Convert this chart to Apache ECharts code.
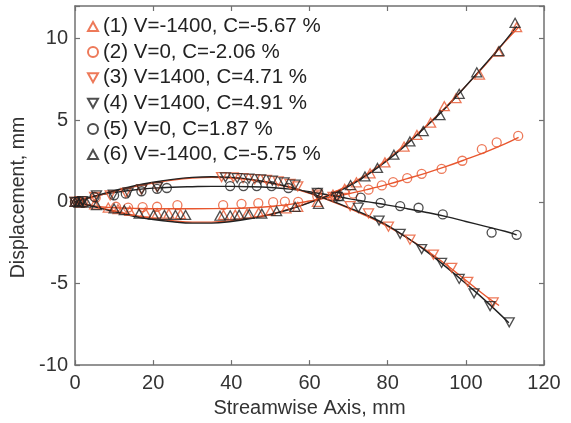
<!DOCTYPE html>
<html>
<head>
<meta charset="utf-8">
<script src="https://cdn.jsdelivr.net/npm/echarts@6/dist/echarts.min.js"></script>
<style>html,body{margin:0;padding:0;background:#fff;}#c{width:571px;height:423px;}</style>
</head>
<body>
<div id="c"></div>
<script>
// ---- data ----
const names = ['(1) V=-1400, C=-5.67 %','(2) V=0, C=-2.06 %','(3) V=1400, C=4.71 %','(4) V=1400, C=4.91 %','(5) V=0, C=1.87 %','(6) V=-1400, C=-5.75 %'];
const xTicks = [0, 20, 40, 60, 80, 100, 120];
const yTicks = [-10, -5, 0, 5, 10];

const s1x = [0, 1.5, 5, 8.5, 11, 14, 18, 21, 24, 27, 38, 41, 44, 47, 50, 54, 57, 62, 66, 69, 72, 75.5, 79.3, 84.2, 87.5, 91, 94.5, 97.5, 103.5, 108.3, 113];
const s1y = [0, -0.05, -0.15, -0.35, -0.45, -0.55, -0.65, -0.7, -0.72, -0.75, -0.8, -0.78, -0.72, -0.65, -0.55, -0.4, -0.3, 0.0, 0.45, 0.8, 1.2, 1.75, 2.42, 3.39, 4.1, 4.85, 5.86, 6.35, 7.8, 9.2, 10.7];

const s2x = [0, 1, 2, 5.3, 10.5, 13.6, 17.3, 21.0, 26.2, 37.9, 42.6, 46.9, 50.7, 53.7, 57.1, 62, 67, 71.2, 75.1, 78.5, 81.4, 85.0, 88.7, 93.8, 99.1, 104.1, 107.9, 113.4];
const s2y = [0, 0, -0.05, 0.25, -0.3, -0.35, -0.32, -0.3, -0.2, -0.2, -0.12, -0.08, -0.02, 0.02, 0.0, 0.35, 0.4, 0.5, 0.75, 1.01, 1.21, 1.45, 1.72, 2.02, 2.52, 3.23, 3.64, 4.04];

const s3x = [0, 1.5, 5, 9, 13, 17, 21, 37.5, 40.5, 43, 46, 49, 52, 55, 57, 62, 66, 70.4, 75.1, 80.2, 85.7, 91.7, 96.4, 100.5, 107];
const s3y = [0, 0.05, 0.3, 0.4, 0.55, 0.75, 0.9, 1.52, 1.5, 1.45, 1.4, 1.35, 1.25, 1.1, 0.95, 0.45, 0.3, -0.26, -0.71, -1.52, -2.32, -3.23, -4.04, -4.9, -6.16];

const s4x = [0, 2, 5.5, 9.8, 13.6, 17.1, 21.1, 38.5, 41.5, 44.5, 47.5, 50.5, 53.5, 56.3, 62, 67, 72.5, 77.8, 83.2, 88.7, 93.8, 98.3, 102.1, 106.2, 111.1];
const s4y = [0, 0.05, 0.4, 0.44, 0.56, 0.77, 0.91, 1.5, 1.45, 1.42, 1.38, 1.3, 1.2, 1.05, 0.55, 0.3, -0.36, -1.15, -1.96, -2.89, -3.74, -4.72, -5.6, -6.38, -7.38];

const s5x = [0, 1, 5, 10, 13, 17, 21, 23.5, 39.7, 43.1, 46.5, 50.3, 54.6, 62.3, 67.6, 73.1, 78.2, 83.2, 87.9, 94.1, 106.6, 113];
const s5y = [0, 0.05, 0.3, 0.4, 0.5, 0.65, 0.8, 0.85, 0.97, 0.97, 0.97, 0.97, 0.85, 0.55, 0.35, 0.26, -0.06, -0.26, -0.36, -0.77, -1.88, -2.02];

const s6x = [0, 1, 2, 3, 5.5, 10, 12.6, 16.4, 20.1, 22.9, 25.7, 28.3, 37.1, 39.7, 42.0, 44.6, 47.8, 51.6, 56.3, 62.3, 67.5, 70.5, 74.2, 77.4, 81.6, 85.7, 89.1, 93.4, 98.3, 102.8, 108.5, 112.6];
const s6y = [0, -0.05, 0, -0.05, -0.2, -0.4, -0.5, -0.72, -0.78, -0.8, -0.8, -0.8, -0.85, -0.82, -0.78, -0.74, -0.72, -0.57, -0.3, -0.12, 0.35, 1.03, 1.56, 2.08, 2.89, 3.70, 4.34, 5.31, 6.62, 7.94, 9.23, 10.97];

// fitted curves
const fit1x = [0, 5, 10, 15, 20, 25, 30, 35, 40, 45, 50, 55, 60, 65, 70, 75, 80, 85, 90, 95, 100, 105, 110, 113.5];
const fit1y = [0, -0.28, -0.55, -0.82, -1.02, -1.16, -1.24, -1.24, -1.15, -0.98, -0.75, -0.43, -0.03, 0.45, 1.02, 1.75, 2.62, 3.62, 4.7, 5.85, 7.1, 8.4, 9.8, 10.7];
const fit6x = [0, 5, 10, 15, 20, 25, 30, 35, 40, 45, 50, 55, 60, 65, 70, 75, 80, 85, 90, 95, 100, 105, 110, 113];
const fit6y = [0, -0.3, -0.6, -0.88, -1.08, -1.22, -1.3, -1.3, -1.2, -1.02, -0.78, -0.45, -0.05, 0.4, 0.95, 1.68, 2.55, 3.55, 4.65, 5.8, 7.1, 8.45, 9.85, 10.75];
const fit3x = [0, 5, 10, 15, 20, 25, 30, 35, 40, 45, 50, 55, 60, 65, 70, 75, 80, 85, 90, 95, 100, 105, 108.5];
const fit3y = [0, 0.33, 0.65, 0.93, 1.16, 1.34, 1.46, 1.5, 1.46, 1.35, 1.16, 0.88, 0.53, 0.1, -0.38, -0.9, -1.5, -2.2, -2.98, -3.85, -4.8, -5.75, -6.35];
const fit4x = [0, 5, 10, 15, 20, 25, 30, 35, 40, 45, 50, 55, 60, 65, 70, 75, 80, 85, 90, 95, 100, 105, 111];
const fit4y = [0, 0.35, 0.68, 0.97, 1.2, 1.38, 1.5, 1.54, 1.5, 1.38, 1.18, 0.9, 0.55, 0.12, -0.35, -0.85, -1.45, -2.2, -3.05, -4.0, -5.0, -6.05, -7.4];
const fit5x = [0, 5, 10, 15, 20, 25, 30, 35, 40, 45, 50, 55, 60, 65, 70, 75, 80, 85, 90, 95, 100, 105, 110, 113];
const fit5y = [0, 0.35, 0.57, 0.73, 0.84, 0.9, 0.93, 0.95, 0.95, 0.93, 0.88, 0.78, 0.62, 0.42, 0.2, 0.0, -0.2, -0.42, -0.65, -0.9, -1.2, -1.5, -1.8, -2.02];
const fit2x = [0, 5, 10, 15, 20, 30, 40, 45, 50, 55, 60, 65, 70, 75, 80, 85, 90, 95, 100, 105, 110, 113.5];
const fit2y = [0, -0.25, -0.36, -0.4, -0.42, -0.42, -0.4, -0.36, -0.28, -0.15, 0.05, 0.28, 0.5, 0.77, 1.07, 1.42, 1.78, 2.17, 2.6, 3.05, 3.55, 3.95];

// ---- styling ----
const RED = '#E8572F';
const BLK = '#222222';
const FONT = "'Liberation Sans', Arial, Helvetica, sans-serif";
const UP = 'path://M5,0L10,9L0,9Z';
const DOWN = 'path://M0,0L10,0L5,9Z';

function zip(xs, ys) { return xs.map((x, i) => [x, ys[i]]); }

function pts(name, xs, ys, symbol, color, size) {
  return {
    type: 'scatter', name: name, data: zip(xs, ys), symbol: symbol, symbolSize: size,
    itemStyle: { color: 'rgba(255,255,255,0)', borderColor: color, borderWidth: 1.3 },
    z: 4, emphasis: { disabled: true }
  };
}
function fit(xs, ys, color) {
  return {
    type: 'line', data: zip(xs, ys), smooth: 0.4, showSymbol: false, symbol: 'none',
    lineStyle: { color: color, width: 1.4 }, z: 2, silent: true
  };
}

const chart = echarts.init(document.getElementById('c'), null, { renderer: 'canvas' });

const axisLineStyle = { show: true, onZero: false, lineStyle: { color: '#707070', width: 1.5 } };
const tickStyle = { show: true, inside: true, length: 5, lineStyle: { color: '#707070', width: 1.2 } };
const labelStyle = { color: '#333', fontSize: 20, fontFamily: FONT };

const option = {
  animation: false,
  backgroundColor: '#fff',
  grid: { left: 75, right: 27, top: 6, bottom: 54, containLabel: false },
  legend: {
    orient: 'vertical', left: 87, top: 16, padding: 0, itemGap: 4.6,
    itemWidth: 10, itemHeight: 10,
    data: names,
    textStyle: { color: '#222', fontSize: 20.5, fontFamily: FONT, lineHeight: 20 },
    selectedMode: false
  },
  xAxis: [{
    type: 'value', min: 0, max: 120, interval: 20, position: 'bottom',
    name: 'Streamwise Axis, mm', nameLocation: 'middle', nameGap: 27,
    nameTextStyle: { color: '#333', fontSize: 20, fontFamily: FONT },
    axisLine: axisLineStyle, axisTick: tickStyle, splitLine: { show: false },
    axisLabel: Object.assign({ margin: 8, formatter: v => xTicks.includes(v) ? String(v) : '' }, labelStyle)
  }, {
    type: 'value', min: 0, max: 120, interval: 20, position: 'top',
    axisLine: axisLineStyle, axisTick: tickStyle, splitLine: { show: false }, axisLabel: { show: false }
  }],
  yAxis: [{
    type: 'value', min: -10, max: 12, interval: 5, position: 'left',
    name: 'Displacement, mm', nameLocation: 'middle', nameGap: 38, nameRotate: 90,
    nameTextStyle: { color: '#333', fontSize: 19.5, fontFamily: FONT, padding: [0, 24, 0, 0] },
    axisLine: axisLineStyle, axisTick: tickStyle, splitLine: { show: false },
    axisLabel: Object.assign({ margin: 7, formatter: v => yTicks.includes(v) ? String(v) : '' }, labelStyle)
  }, {
    type: 'value', min: -10, max: 12, interval: 5, position: 'right',
    axisLine: axisLineStyle, axisTick: tickStyle, splitLine: { show: false }, axisLabel: { show: false }
  }],
  series: [
    fit(fit2x, fit2y, RED),
    fit(fit5x, fit5y, BLK),
    fit(fit3x, fit3y, RED),
    fit(fit1x, fit1y, RED),
    fit(fit4x, fit4y, BLK),
    fit(fit6x, fit6y, BLK),
    pts(names[0], s1x, s1y, UP, RED, [10, 9]),
    pts(names[1], s2x, s2y, 'circle', RED, 9),
    pts(names[2], s3x, s3y, DOWN, RED, [10, 9]),
    pts(names[3], s4x, s4y, DOWN, BLK, [10, 9]),
    pts(names[4], s5x, s5y, 'circle', BLK, 9),
    pts(names[5], s6x, s6y, UP, BLK, [10, 9])
  ]
};
chart.setOption(option);
</script>
</body>
</html>
